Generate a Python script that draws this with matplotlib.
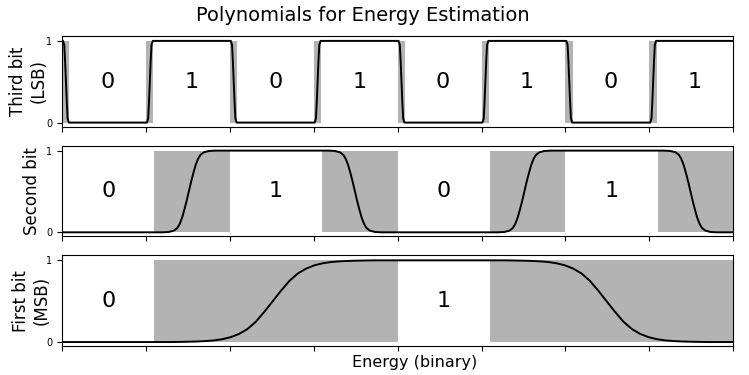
import numpy as np
import matplotlib
matplotlib.use("Agg")
from matplotlib import pyplot as plt

# Energy axis runs over 8 units (ticks at 0..8, unlabeled)
x_max = 8
bit_names = ["Third bit\n(LSB)", "Second bit", "First bit\n(MSB)"]

# Grey "don't care" bands per bit (start, end)
third_bands = [(0.0, 0.085), (1.0, 1.085), (2.0, 2.085), (3.0, 3.085),
               (4.0, 4.085), (5.0, 5.085), (6.0, 6.085), (7.0, 7.085)]
second_bands = [(1.1, 2.0), (3.1, 4.0), (5.1, 6.0), (7.1, 8.0)]
first_bands = [(1.1, 4.0), (5.1, 8.0)]

# Bit value labels (x position, text)
third_labels = [(0.54, "0"), (1.54, "1"), (2.54, "0"), (3.54, "1"),
                (4.54, "0"), (5.54, "1"), (6.54, "0"), (7.54, "1")]
second_labels = [(0.55, "0"), (2.55, "1"), (4.55, "0"), (6.55, "1")]
first_labels = [(0.55, "0"), (4.55, "1")]

# Polynomial curves: start value and transition centres (+1 rise, -1 fall)
third_start = 1
third_steps = [(0.045, -1), (1.045, 1), (2.045, -1), (3.045, 1),
               (4.045, -1), (5.045, 1), (6.045, -1), (7.045, 1)]
second_start = 0
second_steps = [(1.51, 1), (3.49, -1), (5.51, 1), (7.49, -1)]
first_start = 0
first_steps = [(2.51, 1), (6.49, -1)]

# Rising edge shapes (offset from centre, value)
third_edge_d = [-0.035, -0.02, -0.01, 0.0, 0.01, 0.02, 0.035]
third_edge_v = [0.0, 0.05, 0.25, 0.5, 0.75, 0.95, 1.0]
second_edge_d = [-0.32, -0.24, -0.18, -0.14, -0.11, -0.08, -0.05, -0.025, 0.0,
                 0.025, 0.05, 0.08, 0.11, 0.14, 0.18, 0.24, 0.32]
second_edge_v = [0.0, 0.004, 0.02, 0.05, 0.10, 0.18, 0.29, 0.39, 0.50,
                 0.61, 0.71, 0.82, 0.90, 0.95, 0.98, 0.996, 1.0]
first_edge_d = [-1.2, -1.0, -0.9, -0.8, -0.7, -0.6, -0.5, -0.4, -0.3, -0.2, -0.1, 0.0,
                0.1, 0.2, 0.3, 0.4, 0.5, 0.6, 0.7, 0.8, 0.9, 1.0, 1.2]
first_edge_v = [0.0, 0.004, 0.007, 0.012, 0.02, 0.035, 0.06, 0.10, 0.16, 0.25, 0.37, 0.50,
                0.63, 0.75, 0.84, 0.90, 0.94, 0.965, 0.98, 0.988, 0.993, 0.996, 1.0]

# Where the y label's right edge sits (axes fraction)
label_x = [-0.022, -0.031, -0.0165]


def build_curve(start, steps, edge_d, edge_v):
    xs = [0.0]
    ys = [float(start)]
    level = start
    for c, direction in steps:
        for d, v in zip(edge_d, edge_v):
            xs.append(max(0.0, c + d))
            ys.append(v if direction > 0 else 1 - v)
        level = 1 if direction > 0 else 0
    xs.append(float(x_max))
    ys.append(float(level))
    return xs, ys


panels = [
    (third_bands, third_labels, build_curve(third_start, third_steps, third_edge_d, third_edge_v)),
    (second_bands, second_labels, build_curve(second_start, second_steps, second_edge_d, second_edge_v)),
    (first_bands, first_labels, build_curve(first_start, first_steps, first_edge_d, first_edge_v)),
]

fig, axes = plt.subplots(3, 1, figsize=(7.49, 3.75), dpi=100, sharex=True)
fig.subplots_adjust(left=0.083, right=0.979, top=0.904, bottom=0.077, hspace=0.21)

for ax, name, lx_label, (bands, labels, (cx, cy)) in zip(axes, bit_names, label_x, panels):
    for a, b in bands:
        ax.fill_between([a, b], 0, 1, color='#b3b3b3', linewidth=0)
    ax.plot(cx, cy, color='black', linewidth=1.4)
    for lx, txt in labels:
        ax.text(lx, 0.5, txt, fontsize=16, ha='center', va='center')
    ax.set_xlim(0, x_max)
    ax.set_ylim(-0.05, 1.06)
    ax.set_yticks([0, 1])
    ax.set_xticks(np.arange(0, x_max + 1))
    ax.tick_params(axis='y', labelsize=7)
    ax.tick_params(axis='x', labelbottom=False)
    ax.set_ylabel(name, fontsize=12)
    ax.yaxis.set_label_coords(lx_label, 0.5)

fig.suptitle("Polynomials for Energy Estimation", fontsize=14, x=0.484, y=0.985)
fig.text(0.553, 0.012, "Energy (binary)", fontsize=11.5, ha='center', va='bottom')

plt.savefig("out.png", dpi=100)
